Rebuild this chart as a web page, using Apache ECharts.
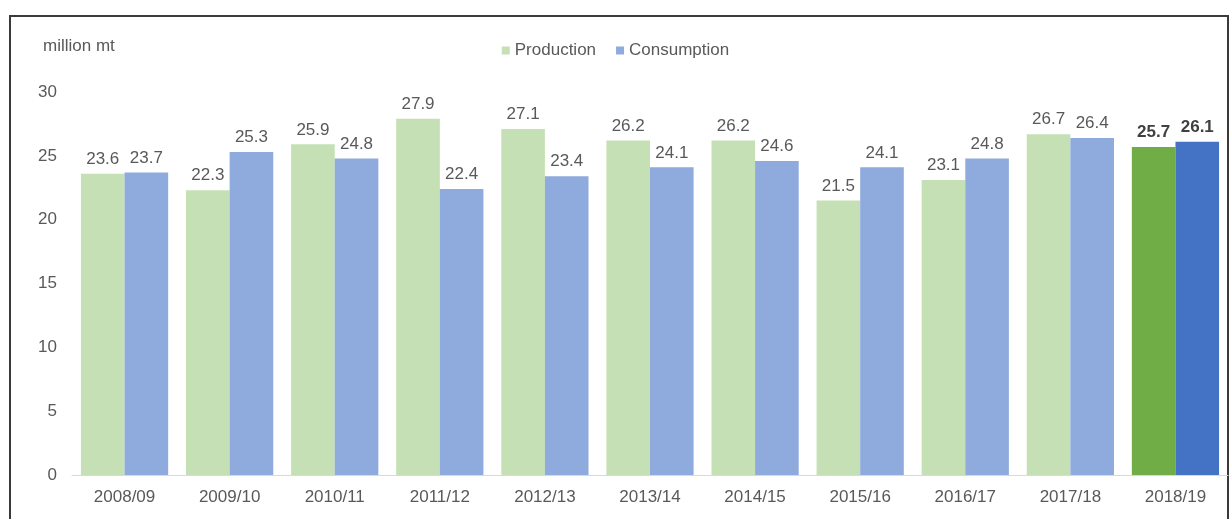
<!DOCTYPE html>
<html>
<head>
<meta charset="utf-8">
<script src="https://cdn.jsdelivr.net/npm/echarts@6/dist/echarts.min.js"></script>
<style>
  html, body { margin: 0; padding: 0; background: #fff; }
  #main { width: 1231px; height: 519px; }
</style>
</head>
<body>
<div id="main"></div>
<script>
// 年度
const categories = ['2008/09', '2009/10', '2010/11', '2011/12', '2012/13', '2013/14',
  '2014/15', '2015/16', '2016/17', '2017/18', '2018/19'];
const production = [23.6, 22.3, 25.9, 27.9, 27.1, 26.2, 26.2, 21.5, 23.1, 26.7, 25.7];
const consumption = [23.7, 25.3, 24.8, 22.4, 23.4, 24.1, 24.6, 24.1, 24.8, 26.4, 26.1];
const yTicks = [0, 5, 10, 15, 20, 25, 30];

const FONT = '"Liberation Sans", Arial, sans-serif';

// 最后一年用深色、粗体标签
function buildData(values, lastColor) {
  return values.map(function (v, i) {
    if (i === values.length - 1) {
      return {
        value: v,
        itemStyle: { color: lastColor },
        label: { fontWeight: 'bold', color: '#404040' }
      };
    }
    return v;
  });
}

const chart = echarts.init(document.getElementById('main'));
const option = {
  backgroundColor: '#fff',
  animation: false,
  textStyle: { fontFamily: FONT },
  graphic: [{
    type: 'rect',
    shape: { x: 10, y: 16, width: 1218, height: 600 },
    style: { fill: 'none', stroke: '#3a3a3a', lineWidth: 2 },
    silent: true
  }, {
    type: 'text',
    left: 43,
    top: 38,
    style: { text: 'million mt', fill: '#595959', font: '17px ' + FONT }
  }],
  legend: {
    top: 37,
    left: 'center',
    itemWidth: 8,
    itemHeight: 8,
    itemGap: 20,
    icon: 'rect',
    textStyle: { color: '#595959', fontSize: 17, fontFamily: FONT },
    data: ['Production', 'Consumption']
  },
  grid: {
    left: 72,
    right: 3,
    top: 92,
    bottom: 44
  },
  xAxis: {
    type: 'category',
    data: categories,
    axisTick: { show: false },
    axisLine: { lineStyle: { color: '#d9d9d9', width: 1 } },
    axisLabel: { color: '#595959', fontSize: 17, margin: 14, fontFamily: FONT }
  },
  yAxis: {
    type: 'value',
    min: yTicks[0],
    max: yTicks[yTicks.length - 1],
    interval: yTicks[1] - yTicks[0],
    splitLine: { show: false },
    axisLine: { show: false },
    axisTick: { show: false },
    axisLabel: { color: '#595959', fontSize: 17, margin: 15, fontFamily: FONT }
  },
  series: [{
    name: 'Production',
    type: 'bar',
    barGap: '0%',
    barCategoryGap: '17%',
    itemStyle: { color: '#c5e0b4' },
    label: { show: true, position: 'top', distance: 6, color: '#595959', fontSize: 17, fontFamily: FONT },
    data: buildData(production, '#70ad47')
  }, {
    name: 'Consumption',
    type: 'bar',
    itemStyle: { color: '#8faadc' },
    label: { show: true, position: 'top', distance: 6, color: '#595959', fontSize: 17, fontFamily: FONT },
    data: buildData(consumption, '#4472c4')
  }]
};
chart.setOption(option);
</script>
</body>
</html>
